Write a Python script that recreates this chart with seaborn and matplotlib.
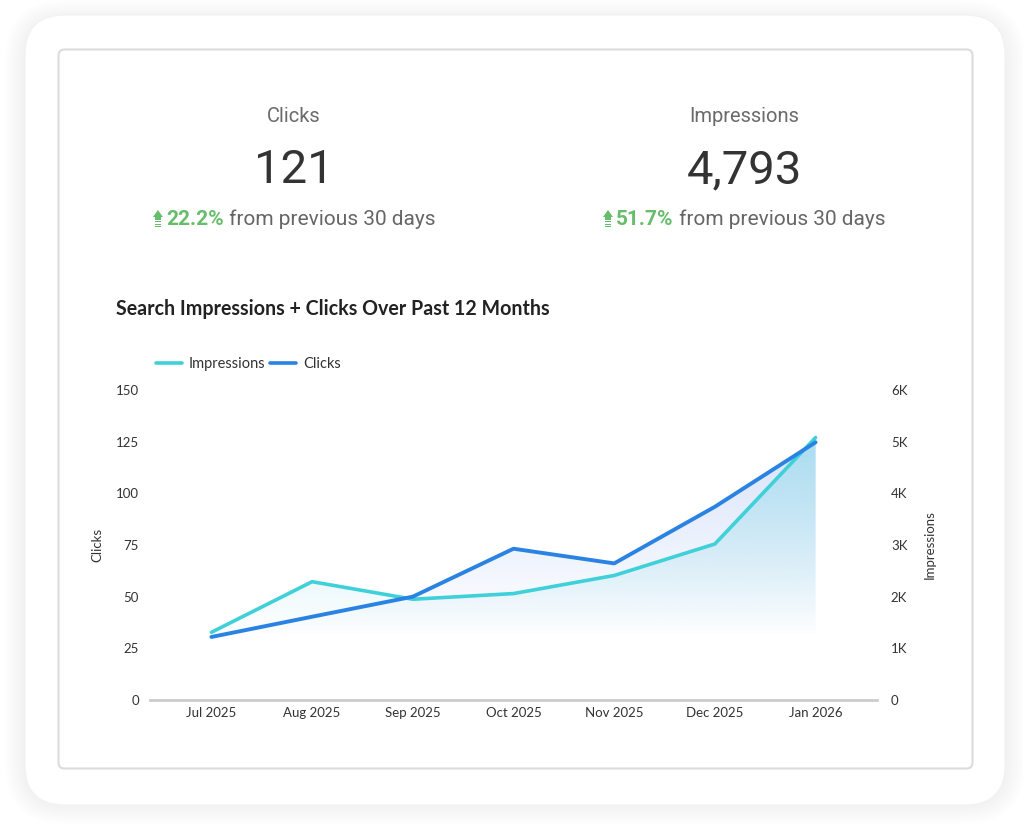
import numpy as np
import pandas as pd
import seaborn as sns
from matplotlib import pyplot as plt
from matplotlib import patches
from matplotlib.colors import to_rgb

months = ['Jul 2025', 'Aug 2025', 'Sep 2025', 'Oct 2025', 'Nov 2025', 'Dec 2025', 'Jan 2026']
clicks = [30.5, 40.3, 50.0, 73.2, 66.1, 93.5, 124.7]
impressions = [1310, 2290, 1950, 2060, 2410, 3020, 5080]
clicks_ticks = [0, 25, 50, 75, 100, 125, 150]
impr_ticks = [0, 1000, 2000, 3000, 4000, 5000, 6000]
impr_tick_labels = ['0', '1K', '2K', '3K', '4K', '5K', '6K']

kpi_names = ['Clicks', 'Impressions']
kpi_values = ['121', '4,793']
kpi_changes = ['22.2%', '51.7%']

CYAN = '#3fd0d9'
BLUE = '#2a83e2'
GREEN = '#67bd6b'
W, H = 1023, 830
CLICKS_MAX, IMPR_MAX = 150, 6000

sns.set_theme(style='white')
plt.rcParams['font.family'] = ['Lato', 'DejaVu Sans']
KPI_FONT = ['Roboto', 'DejaVu Sans']

df = pd.DataFrame({'month': months, 'clicks': clicks, 'impressions': impressions})
df['pos'] = range(len(df))

fig = plt.figure(figsize=(W / 100, H / 100), dpi=100)
fig.patch.set_facecolor('white')

# background layer in pixel coordinates: card, shadow, inner border
bg = fig.add_axes([0, 0, 1, 1])
bg.set_xlim(0, W)
bg.set_ylim(H, 0)
bg.axis('off')
for i in range(14):
    pad = 2 + i * 1.5
    bg.add_patch(patches.FancyBboxPatch((25 - pad + 1, 15 - pad + 6), 980 + 2 * pad - 2, 790 + 2 * pad - 8,
                                        boxstyle='round,pad=0,rounding_size=%f' % (40 + pad),
                                        facecolor='black', edgecolor='none', alpha=0.005))
bg.add_patch(patches.FancyBboxPatch((25, 15), 980, 790, boxstyle='round,pad=0,rounding_size=40',
                                    facecolor='white', edgecolor='#f2f2f2', linewidth=0.8))
bg.add_patch(patches.FancyBboxPatch((58.5, 49.5), 914, 719, boxstyle='round,pad=0,rounding_size=6',
                                    facecolor='white', edgecolor='#dcdcdc', linewidth=1.5))

# KPI header
renderer = fig.canvas.get_renderer()
kpi_centers = [294, 744]
for cx, name, val, chg in zip(kpi_centers, kpi_names, kpi_values, kpi_changes):
    bg.text(cx, 117, name, ha='center', va='center', fontsize=14.5, color='#6a6a6a', family=KPI_FONT)
    bg.text(cx, 170, val, ha='center', va='center', fontsize=34, color='#333333', family=KPI_FONT)
    t1 = bg.text(0, 219, chg, ha='left', va='center', fontsize=15, color=GREEN, fontweight='bold',
                 family=KPI_FONT)
    t2 = bg.text(0, 219, ' from previous 30 days', ha='left', va='center', fontsize=15, color='#666666',
                 family=KPI_FONT)
    w1 = t1.get_window_extent(renderer).width
    w2 = t2.get_window_extent(renderer).width
    icon_w = 13
    total = icon_w + w1 + w2
    x0 = cx - total / 2
    t1.set_x(x0 + icon_w)
    t2.set_x(x0 + icon_w + w1)
    # up-arrow icon
    bg.add_patch(patches.Polygon([(x0, 217), (x0 + 5, 210), (x0 + 10, 217)], closed=True,
                                 facecolor=GREEN, edgecolor='none'))
    bg.add_patch(patches.Rectangle((x0 + 2, 217), 6, 3, facecolor=GREEN, edgecolor='none'))
    for yy in (221, 223.5, 226):
        bg.add_patch(patches.Rectangle((x0 + 2, yy), 6, 1.4, facecolor=GREEN, edgecolor='none'))

bg.text(116, 309, 'Search Impressions + Clicks Over Past 12 Months', ha='left', va='center',
        fontsize=14.1, fontweight='bold', color='#222222')

# main chart
ax = fig.add_axes([150 / W, (H - 700) / H, 727 / W, 310 / H])
ax2 = ax.twinx()
ax.set_zorder(ax2.get_zorder() + 1)
ax.patch.set_visible(False)

sns.lineplot(data=df, x='pos', y='impressions', ax=ax2, color=CYAN, linewidth=2.6, label='Impressions', legend=False)
sns.lineplot(data=df, x='pos', y='clicks', ax=ax, color=BLUE, linewidth=2.8, label='Clicks', legend=False)


def gradient_fill(axis, x, y, color, top, bottom, amax, z):
    poly = axis.fill_between(x, y, 0, facecolor='none', edgecolor='none')
    rgb = to_rgb(color)
    n = 256
    img = np.zeros((n, 1, 4))
    img[:, 0, :3] = rgb
    img[:, 0, 3] = np.linspace(amax, 0, n)
    im = axis.imshow(img, aspect='auto', extent=[min(x), max(x), bottom, top], origin='upper', zorder=z)
    im.set_clip_path(poly.get_paths()[0], transform=axis.transData)


# both fills on the impressions axis so the impressions gradient sits over the clicks one
scale = IMPR_MAX / CLICKS_MAX
gradient_fill(ax2, df['pos'], df['clicks'] * scale, '#bfd1f6', 5000, 1250, 0.6, 0.5)
gradient_fill(ax2, df['pos'], df['impressions'], '#8edaeb', 5100, 1250, 0.62, 1)

ax.set_xlim(-0.61, 6.61)
ax.set_ylim(0, CLICKS_MAX)
ax2.set_ylim(0, IMPR_MAX)
ax.set_xticks(df['pos'])
ax.set_xticklabels(months)
ax.set_yticks(clicks_ticks)
ax2.set_yticks(impr_ticks)
ax2.set_yticklabels(impr_tick_labels)
ax.set_xlabel('')
ax.set_ylabel('Clicks', fontsize=9.5, color='#333333', labelpad=9)
ax2.set_ylabel('Impressions', fontsize=9.5, color='#333333', labelpad=12)
for a in (ax, ax2):
    a.tick_params(axis='both', length=0, labelsize=9.5, labelcolor='#333333')
    for s in ('top', 'left', 'right', 'bottom'):
        a.spines[s].set_visible(False)
    a.grid(False)
ax.tick_params(axis='x', pad=5)
ax.tick_params(axis='y', pad=8)
ax2.tick_params(axis='y', pad=10)
ax.spines['bottom'].set_visible(True)
ax.spines['bottom'].set_color('#cccccc')
ax.spines['bottom'].set_linewidth(2)

handles = [plt.Line2D([], [], color=CYAN, linewidth=2.6), plt.Line2D([], [], color=BLUE, linewidth=2.6)]
fig.legend(handles, ['Impressions', 'Clicks'], loc='center left', bbox_to_anchor=(143 / W, 1 - 364 / H),
           ncol=2, frameon=False, fontsize=10.5, handlelength=1.8, handletextpad=0.45, columnspacing=0.3,
           labelcolor='#333333')

fig.savefig('out.png', dpi=100, facecolor='white')
